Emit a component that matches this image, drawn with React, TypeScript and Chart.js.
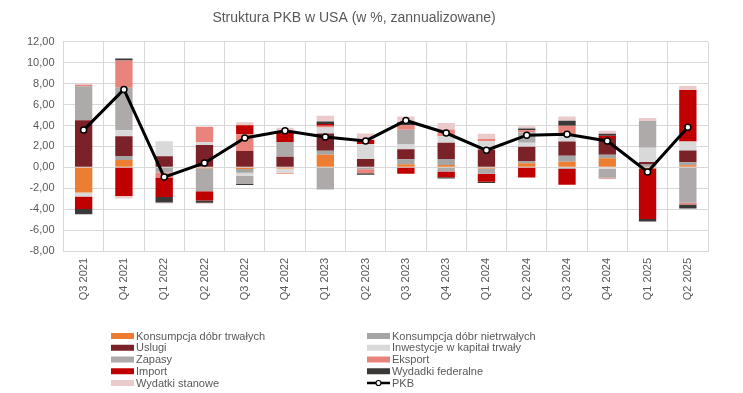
import React, { useEffect, useRef } from 'react';
import { Chart, registerables } from 'chart.js';

Chart.register(...registerables);

const categories = [
  'Q3 2021', 'Q4 2021', 'Q1 2022', 'Q2 2022', 'Q3 2022', 'Q4 2022', 'Q1 2023', 'Q2 2023',
  'Q3 2023', 'Q4 2023', 'Q1 2024', 'Q2 2024', 'Q3 2024', 'Q4 2024', 'Q1 2025', 'Q2 2025',
];

const trwale = [-2.41, 0.7, 0, -0.08, -0.17, -0.11, 1.21, 0, 0.29, 0.22, -0.12, 0.38, 0.54, 0.86, -0.15, 0.19];
const nietrwale = [0, 0.38, 0, 0, -0.35, 0, 0.38, 0, 0.48, 0.57, 0, 0.22, 0.57, 0.35, 0.26, 0.29];
const uslugi = [4.51, 1.9, 1.05, 2.13, 1.56, 1.0, 1.65, 0.8, 0.95, 1.56, 1.7, 1.37, 1.37, 1.49, 0.25, 1.12];
const inwestycje = [-0.38, 0.57, 1.45, 0.3, -0.28, -0.4, 0.57, 1.43, 0.46, 0.63, 0.8, 0.38, 0.54, -0.13, 1.37, 0.87];
const zapasy = [3.24, 4.06, -0.5, -2.2, -0.8, 1.43, -2.13, -0.19, 1.4, -0.41, -0.5, 0.98, -0.15, -0.86, 2.54, -3.38];
const eksport = [0.13, 2.6, -0.48, 1.46, 1.6, -0.1, 0.16, -0.38, 0.44, 0.63, 0.2, 0.22, 0.95, -0.1, 0, -0.18];
const importy = [-1.2, -2.73, -1.85, -0.9, 0.86, 0.9, 0.16, 0.38, -0.62, -0.54, -0.75, -0.98, -1.52, 0.32, -4.78, 4.93];
const federalne = [-0.5, 0.19, -0.54, -0.2, -0.1, 0.1, 0.25, -0.13, 0.3, -0.13, -0.13, 0.16, 0.48, 0.19, -0.25, -0.37];
const stanowe = [0.13, -0.25, -0.1, -0.1, 0.28, 0.35, 0.54, 0.63, 0.54, 0.63, 0.5, 0.22, 0.41, 0.29, 0.3, 0.38];
const pkb = [3.56, 7.45, -0.93, 0.42, 2.8, 3.5, 2.9, 2.52, 4.48, 3.28, 1.63, 3.07, 3.17, 2.52, -0.44, 3.84];

const seriesNames = [
  'Konsumpcja dóbr trwałych', 'Konsumpcja dóbr nietrwałych', 'Uslugi', 'Inwestycje w kapitał trwały',
  'Zapasy', 'Eksport', 'Import', 'Wydadki federalne', 'Wydatki stanowe',
];
const seriesData = [trwale, nietrwale, uslugi, inwestycje, zapasy, eksport, importy, federalne, stanowe];
const seriesColors = ['#ED7D31', '#A5A5A5', '#7B2128', '#D9D9D9', '#AEAAAA', '#E9847D', '#C00000', '#3B3838', '#EACACB'];
const lineName = 'PKB';

const yTicksMin = -8;
const yTicksMax = 12;
const yStep = 2;

const FONT = '"Liberation Sans", Arial, sans-serif';
const TEXT = '#595959';

const legendPlugin = {
  id: 'customLegend',
  afterDraw(chart: any) {
    const ctx = chart.ctx;
    ctx.save();
    ctx.font = `11px ${FONT}`;
    ctx.textBaseline = 'middle';
    ctx.textAlign = 'left';
    const colX = [111, 367];
    const rowY0 = 336;
    const rowH = 11.75;
    const items = [
      ...seriesNames.map((n, i) => ({ name: n, color: seriesColors[i], line: false })),
      { name: lineName, color: '#000000', line: true },
    ];
    items.forEach((it, i) => {
      const col = i % 2;
      const row = Math.floor(i / 2);
      const x = colX[col];
      const y = rowY0 + row * rowH;
      if (it.line) {
        ctx.strokeStyle = '#000';
        ctx.lineWidth = 2.5;
        ctx.beginPath();
        ctx.moveTo(x, y);
        ctx.lineTo(x + 23, y);
        ctx.stroke();
        ctx.fillStyle = '#fff';
        ctx.lineWidth = 1.2;
        ctx.beginPath();
        ctx.arc(x + 11.5, y, 2.5, 0, Math.PI * 2);
        ctx.fill();
        ctx.stroke();
      } else {
        ctx.fillStyle = it.color;
        ctx.fillRect(x, y - 3, 23, 6);
      }
      ctx.fillStyle = TEXT;
      ctx.fillText(it.name, x + 25, y + 0.5);
    });
    ctx.restore();
  },
};

export default function App() {
  const ref = useRef<HTMLCanvasElement>(null);
  useEffect(() => {
    document.body.style.margin = '0';
    const canvas = ref.current!;
    const datasets: any[] = seriesNames.map((name, i) => ({
      type: 'bar',
      label: name,
      data: seriesData[i],
      backgroundColor: seriesColors[i],
      borderWidth: 0,
      stack: 'bars',
      order: 1,
      categoryPercentage: 1,
      barPercentage: 0.43,
    }));
    datasets.push({
      type: 'line',
      label: lineName,
      data: pkb,
      borderColor: '#000000',
      borderWidth: 3,
      pointRadius: 3,
      pointBorderWidth: 1.5,
      pointBackgroundColor: '#ffffff',
      pointBorderColor: '#000000',
      stack: 'line',
      order: 0,
      tension: 0,
    });
    const chart = new Chart(canvas, {
      type: 'bar',
      data: { labels: categories, datasets },
      options: {
        responsive: false,
        animation: false,
        layout: { padding: { left: 0, right: 35, top: 0, bottom: 92 } },
        plugins: {
          legend: { display: false },
          tooltip: { enabled: false },
          title: {
            display: true,
            text: 'Struktura PKB w USA (w %, zannualizowane)',
            color: TEXT,
            font: { size: 14, family: FONT, weight: 'normal' },
            padding: { top: 10, bottom: 15 },
          },
        },
        scales: {
          x: {
            stacked: true,
            grid: { color: '#D9D9D9', drawTicks: false, offset: true },
            border: { color: '#D9D9D9' },
            ticks: {
              color: TEXT,
              font: { size: 11, family: FONT },
              minRotation: 90,
              maxRotation: 90,
              padding: 7,
              autoSkip: false,
            },
            afterFit: (s: any) => { s.height = 50; },
          },
          y: {
            stacked: true,
            min: yTicksMin,
            max: yTicksMax,
            grid: { color: '#D9D9D9', drawTicks: false },
            border: { color: '#D9D9D9' },
            ticks: {
              stepSize: yStep,
              color: TEXT,
              font: { size: 11, family: FONT },
              padding: 9,
              callback: (v: any) => Number(v).toFixed(2).replace('.', ','),
            },
            afterFit: (s: any) => { s.width = 63.5; },
          },
        },
      },
      plugins: [legendPlugin],
    } as any);
    return () => chart.destroy();
  }, []);
  return <canvas ref={ref} width={743} height={393} style={{ display: 'block', width: 743, height: 393 }} />;
}
